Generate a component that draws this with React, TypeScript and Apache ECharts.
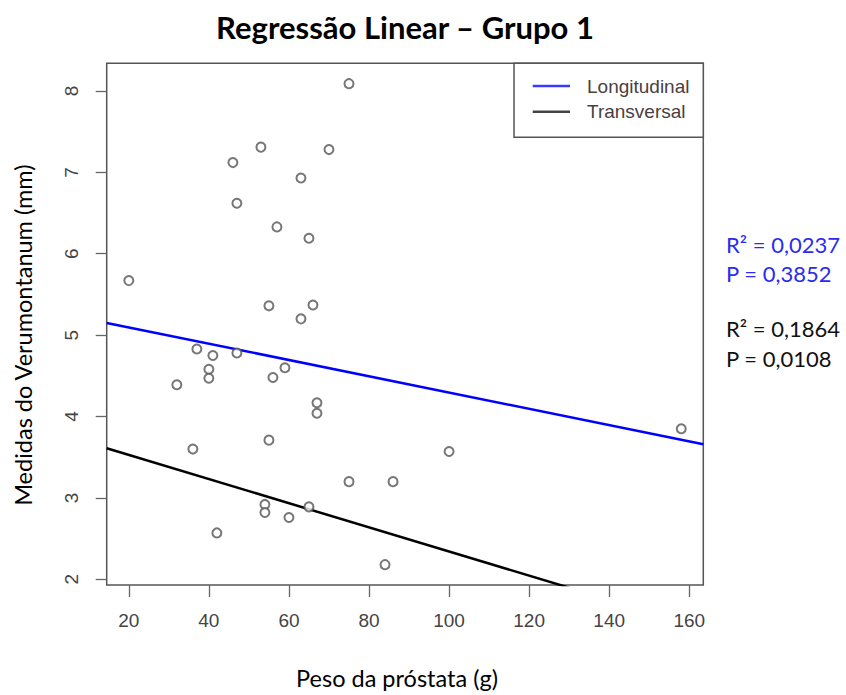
import React, { useEffect, useRef } from "react";
import * as echarts from "echarts";

const titleText = "Regressão Linear – Grupo 1";
const xName = "Peso da próstata (g)";
const yName = "Medidas do Verumontanum (mm)";
const xTicks = [20, 40, 60, 80, 100, 120, 140, 160];
const yTicks = [2, 3, 4, 5, 6, 7, 8];
const xRange = [14.48, 163.5];
const yRange = [1.93, 8.34];

const pesoValues = [75, 53, 70, 46, 63, 47, 57, 65, 20, 55, 66, 63, 37, 41, 47, 40, 40, 59, 56, 32, 67, 67, 55, 36, 75, 54, 54, 65, 60, 42, 158, 100, 86, 84];
const medidaValues = [8.09, 7.31, 7.28, 7.12, 6.93, 6.62, 6.33, 6.19, 5.67, 5.36, 5.37, 5.2, 4.83, 4.75, 4.78, 4.58, 4.47, 4.6, 4.48, 4.39, 4.17, 4.04, 3.71, 3.6, 3.2, 2.92, 2.82, 2.89, 2.76, 2.57, 3.85, 3.57, 3.2, 2.18];

const seriesNames = ["Longitudinal", "Transversal"];
const seriesColors = ["#0000ff", "#000000"];
const lineX = [14.48, 163.5];
const longitudinalY = [5.15, 3.66];
const transversalY = [3.61, 1.4];

const statsLines = [
  { text: "R² = 0,0237", color: "#2b2bf0" },
  { text: "P = 0,3852", color: "#2b2bf0" },
  { text: "R² = 0,1864", color: "#111111" },
  { text: "P = 0,0108", color: "#111111" },
];

export default function App() {
  const ref = useRef<HTMLDivElement>(null);
  useEffect(() => {
    if (!ref.current) return;
    const chart = echarts.init(ref.current, null, { renderer: "svg" });
    const points = pesoValues.map((x, i) => [x, medidaValues[i]]);
    const statsY = [244, 273, 328, 358];
    const legendRows = [86, 111.7];
    chart.setOption({
      animation: false,
      backgroundColor: "#ffffff",
      title: {
        text: titleText,
        left: 400,
        top: 6,
        textAlign: "center",
        textStyle: { fontFamily: "Lato", fontWeight: "bold", fontSize: 31, color: "#000" },
      },
      grid: {
        left: 106.7,
        right: 142.7,
        top: 63.3,
        bottom: 110,
        show: true,
        borderColor: "#555",
        borderWidth: 1.5,
        backgroundColor: "transparent",
      },
      xAxis: {
        type: "value",
        min: xRange[0],
        max: xRange[1],
        name: xName,
        nameLocation: "middle",
        nameGap: 81,
        nameTextStyle: { fontFamily: "Lato", fontSize: 23.5, color: "#000", padding: [0, 16, 0, 0] },
        axisLine: { show: false },
        splitLine: { show: false },
        axisTick: { show: true, length: 12, lineStyle: { color: "#666", width: 1.3 }, customValues: xTicks },
        axisLabel: { fontFamily: "Liberation Sans", fontSize: 19, color: "#444", margin: 26, customValues: xTicks },
      },
      yAxis: {
        type: "value",
        min: yRange[0],
        max: yRange[1],
        name: yName,
        nameLocation: "middle",
        nameGap: 72,
        nameRotate: 90,
        nameTextStyle: { fontFamily: "Lato", fontSize: 23.5, color: "#000", padding: [0, 22, 0, 0] },
        axisLine: { show: false },
        splitLine: { show: false },
        axisTick: { show: true, length: 11, lineStyle: { color: "#666", width: 1.3 }, customValues: yTicks },
        axisLabel: { fontFamily: "Liberation Sans", fontSize: 19, color: "#444", margin: 26, rotate: 90, customValues: yTicks },
      },
      series: [
        {
          type: "scatter",
          data: points,
          symbol: "emptyCircle",
          symbolSize: 9,
          itemStyle: { color: "#555", borderColor: "#555", borderWidth: 1.3 },
          z: 3,
        },
        {
          name: seriesNames[0],
          type: "line",
          data: lineX.map((x, i) => [x, longitudinalY[i]]),
          symbol: "none",
          clip: true,
          lineStyle: { color: seriesColors[0], width: 2.5 },
          z: 2,
        },
        {
          name: seriesNames[1],
          type: "line",
          data: lineX.map((x, i) => [x, transversalY[i]]),
          symbol: "none",
          clip: true,
          lineStyle: { color: seriesColors[1], width: 2.5 },
          z: 2,
        },
      ],
      graphic: [
        {
          type: "rect",
          shape: { x: 514, y: 63.3, width: 189.3, height: 74 },
          style: { fill: "#fff", stroke: "#555", lineWidth: 1.5 },
          z: 10,
        },
        ...seriesNames.flatMap((name, i) => [
          {
            type: "line",
            shape: { x1: 532.7, y1: legendRows[i], x2: 570, y2: legendRows[i] },
            style: { stroke: i === 0 ? "#3a3aff" : "#444", lineWidth: 2.5 },
            z: 11,
          },
          {
            type: "text",
            x: 587,
            y: legendRows[i],
            style: {
              text: name,
              fill: "#4a4040",
              font: "19px 'Liberation Sans'",
              textVerticalAlign: "middle",
            },
            z: 11,
          },
        ]),
        ...statsLines.map((s, i) => ({
          type: "text",
          x: 726,
          y: statsY[i],
          style: {
            text: s.text,
            fill: s.color,
            font: "22px Lato",
            textVerticalAlign: "middle",
          },
        })),
      ],
    });
    return () => chart.dispose();
  }, []);
  return <div ref={ref} style={{ position: "absolute", left: 0, top: 0, width: 846, height: 695 }} />;
}
